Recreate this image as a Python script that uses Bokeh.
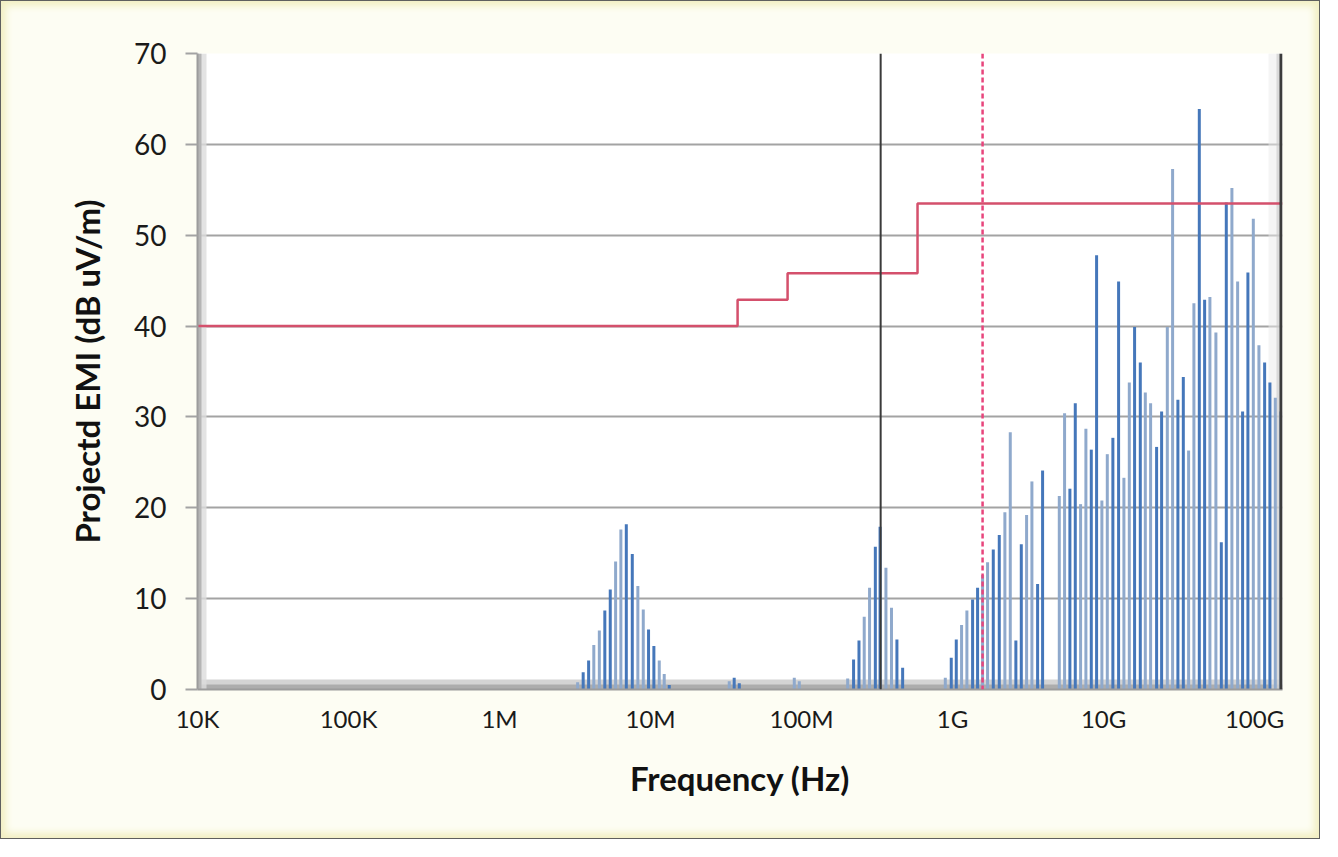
from bokeh.plotting import figure
from bokeh.models import Span, BoxAnnotation, FixedTicker, CustomJSTickFormatter, ColumnDataSource
from bokeh.embed import file_html
from bokeh.resources import INLINE

# ---------------- data ----------------
tick_freq = [1e4, 1e5, 1e6, 1e7, 1e8, 1e9, 1e10, 1e11]
tick_labels = ["10K", "100K", "1M", "10M", "100M", "1G", "10G", "100G"]
y_ticks = [0, 10, 20, 30, 40, 50, 60, 70]

cluster_mhz_freq = [3.29e6, 3.58e6, 3.89e6, 4.21e6, 4.58e6, 4.98e6, 5.41e6, 5.87e6, 6.36e6,
                    6.91e6, 7.57e6, 8.24e6, 8.95e6, 9.70e6, 1.052e7, 1.142e7, 1.232e7, 1.330e7]
cluster_mhz_db = [0.8, 1.9, 3.2, 4.9, 6.5, 8.7, 11.0, 14.1, 17.6,
                  18.2, 14.9, 11.4, 8.8, 6.6, 4.8, 3.2, 1.7, 0.5]

bumps_freq = [3.32e7, 3.58e7, 3.87e7, 8.95e7, 9.66e7]
bumps_db = [0.9, 1.3, 0.7, 1.3, 0.9]

cluster_300m_freq = [2.02e8, 2.21e8, 2.40e8, 2.60e8, 2.82e8, 3.08e8, 3.31e8, 3.62e8, 3.94e8, 4.28e8, 4.67e8]
cluster_300m_db = [1.2, 3.3, 5.4, 8.0, 11.2, 15.7, 17.9, 13.4, 9.0, 5.5, 2.4]

cluster_ghz_freq = [8.95e8, 9.80e8, 1.058e9, 1.147e9, 1.244e9, 1.357e9, 1.464e9, 1.580e9, 1.705e9,
                    1.860e9, 2.038e9, 2.220e9, 2.410e9, 2.625e9, 2.851e9, 3.091e9, 3.352e9, 3.656e9,
                    3.945e9, 5.089e9, 5.516e9, 5.982e9, 6.494e9, 7.041e9, 7.635e9, 8.288e9, 8.987e9,
                    9.743e9, 1.058e10, 1.152e10, 1.257e10, 1.363e10, 1.480e10, 1.604e10, 1.750e10,
                    1.889e10, 2.048e10, 2.244e10, 2.422e10, 2.642e10, 2.864e10, 3.105e10, 3.372e10,
                    3.656e10, 3.963e10, 4.303e10, 4.666e10, 5.058e10, 5.542e10, 6.019e10, 6.494e10,
                    7.074e10, 7.718e10, 8.327e10, 9.028e10, 9.804e10, 1.068e11, 1.165e11, 1.263e11,
                    1.371e11, 1.487e11]
cluster_ghz_db = [1.3, 3.5, 5.5, 7.1, 8.7, 9.9, 11.2, 12.6, 14.0,
                  15.4, 17.0, 19.5, 28.3, 5.4, 16.0, 19.2, 22.9, 11.6,
                  24.1, 21.3, 30.4, 22.1, 31.5, 20.4, 28.7, 26.4, 47.8,
                  20.8, 25.9, 27.7, 44.9, 23.3, 33.8, 39.9, 36.0,
                  32.7, 31.5, 26.7, 30.6, 39.9, 57.3, 31.9, 34.4,
                  26.3, 42.5, 63.9, 42.9, 43.2, 39.3, 16.2, 53.6,
                  55.2, 44.9, 30.6, 45.9, 51.8, 37.9, 36.0, 33.8,
                  32.1, 30.6]

limit_freq = [1e4, 3.77e7, 8.08e7, 5.86e8, 1.53e11]
limit_db = [40.0, 42.9, 45.8, 53.5, 53.5]

marker_black_freq = 3.34e8
marker_red_freq = 1.58e9

X_START, X_END = 1e4, 1.53e11

# ---------------- figure ----------------
FONT = "Lato"
p = figure(width=1320, height=839, x_axis_type="log", x_range=(X_START, X_END), y_range=(0, 70),
           output_backend="svg", toolbar_location=None,
           min_border_left=196, min_border_right=39, min_border_top=52, min_border_bottom=151)
p.styles = {"border": "1px solid #5f5f5f", "background-color": "#FDFDF3",
            "box-shadow": "inset 0 0 7px 5px #F2EFC4"}
p.border_fill_alpha = 0
p.background_fill_color = "white"
p.outline_line_color = None

# grid
p.xgrid.grid_line_color = None
p.ygrid.grid_line_color = "#A3A3A3"
p.ygrid.grid_line_width = 2

# 3D-like walls (decoration)
px = 10 ** (1 / 151)  # one pixel as a factor on the log axis
p.add_layout(BoxAnnotation(bottom=0, top=1.1, fill_color="#D4D4D4", fill_alpha=1, line_color=None, level="underlay"))
p.add_layout(BoxAnnotation(bottom=0, top=0.55, fill_color="#ADADAD", fill_alpha=1, line_color=None, level="underlay"))
p.add_layout(BoxAnnotation(left=X_START, right=X_START * px ** 9, fill_color="#DCDCDC", fill_alpha=0.8, line_color=None, level="underlay"))
p.add_layout(BoxAnnotation(left=X_START, right=X_START * px ** 4, fill_color="#B5B5B5", fill_alpha=1, line_color=None, level="underlay"))
p.add_layout(BoxAnnotation(left=X_END / px ** 14, right=X_END, fill_color="#EBEBEB", fill_alpha=0.5, line_color=None, level="underlay"))
p.add_layout(BoxAnnotation(left=X_END / px ** 6, right=X_END, fill_color="#C8C8C8", fill_alpha=0.6, line_color=None, level="underlay"))
p.add_layout(BoxAnnotation(left=X_END / px ** 3, right=X_END, fill_color="#3C3C3C", fill_alpha=1, line_color=None))

# spikes
freqs, dbs, cols = [], [], []
for fs, vs in [(cluster_mhz_freq, cluster_mhz_db), (bumps_freq, bumps_db),
               (cluster_300m_freq, cluster_300m_db), (cluster_ghz_freq, cluster_ghz_db)]:
    for i, (f, v) in enumerate(zip(fs, vs)):
        freqs.append(f)
        dbs.append(v)
        cols.append("#4577BA" if i % 4 in (1, 2) else "#8FA9CC")
src = ColumnDataSource(dict(f=freqs, v=dbs, c=cols))
p.segment(x0="f", y0=0, x1="f", y1="v", line_color="c", line_width=3, source=src)

# limit line
p.step(limit_freq, limit_db, mode="after", line_color="#D4506C", line_width=2.5)

# markers
p.add_layout(Span(location=marker_black_freq, dimension="height", line_color="#3A3A3A", line_width=2))
p.add_layout(Span(location=marker_red_freq, dimension="height", line_color="#E8457C", line_width=2.5, line_dash="5 3"))

# axes
p.xaxis.ticker = FixedTicker(ticks=tick_freq, minor_ticks=[])
p.xaxis.formatter = CustomJSTickFormatter(args=dict(names=tick_labels, decades=tick_freq), code="""
const i = decades.findIndex(t => Math.abs(Math.log10(t) - Math.log10(tick)) < 1e-6);
return i >= 0 ? names[i] : "";
""")
p.yaxis.ticker = FixedTicker(ticks=y_ticks, minor_ticks=[])

for ax in (p.xaxis[0], p.yaxis[0]):
    ax.axis_line_color = "#9C9C9C"
    ax.axis_line_width = 2
    ax.minor_tick_line_color = None
    ax.major_label_text_font = FONT
    ax.major_label_text_color = "#1A1A1A"
    ax.axis_label_text_font = FONT
    ax.axis_label_text_font_style = "bold"
    ax.axis_label_text_font_size = "33px"
    ax.axis_label_text_color = "#111111"

p.xaxis.major_tick_line_color = None
p.xaxis.major_tick_out = 0
p.xaxis.major_tick_in = 0
p.xaxis.major_label_standoff = 14
p.xaxis.major_label_text_font_size = "24px"
p.xaxis.axis_label = "Frequency (Hz)"
p.xaxis.axis_label_standoff = 22

p.yaxis.major_tick_line_color = "#A3A3A3"
p.yaxis.major_tick_line_width = 2
p.yaxis.major_tick_out = 12
p.yaxis.major_tick_in = 0
p.yaxis.major_label_standoff = 19
p.yaxis.major_label_text_font_size = "28px"
p.yaxis.axis_label = "Projectd EMI (dB uV/m)"
p.yaxis.axis_label_standoff = 24

open("out.html", "w").write(file_html(p, INLINE))
